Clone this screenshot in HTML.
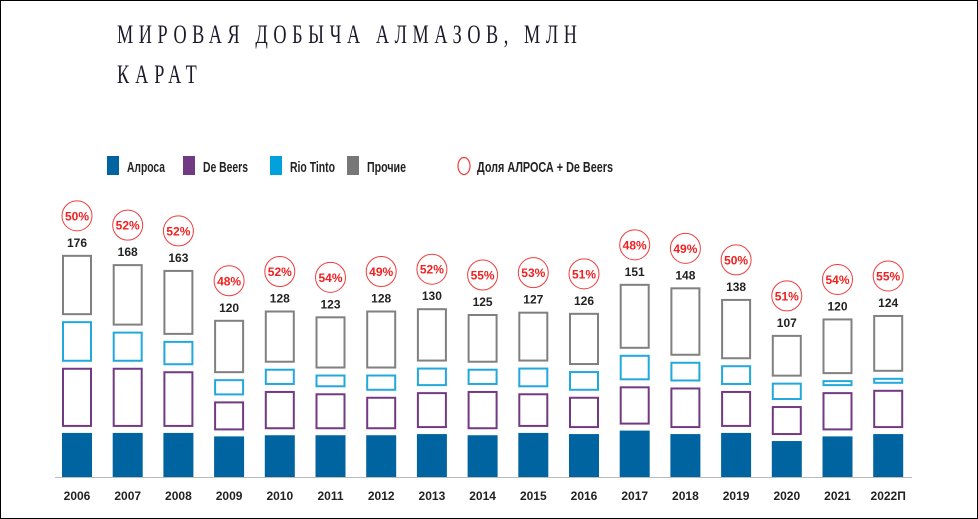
<!DOCTYPE html>
<html><head><meta charset="utf-8"><style>
html,body{margin:0;padding:0;background:#fff}
svg{display:block;font-family:"Liberation Sans","Noto Sans CJK JP",sans-serif}
</style></head><body>
<svg id="c" width="978" height="519" viewBox="0 0 978 519">
<rect x="0.5" y="0.5" width="977" height="518" fill="#fff" stroke="#000" stroke-width="1"/>
<g transform="translate(117,43) scale(0.7,1)">
<text x="0" y="0" font-family="Liberation Serif,serif" font-size="26" fill="#1a1a2a" textLength="657" lengthAdjust="spacing">МИРОВАЯ ДОБЫЧА АЛМАЗОВ, МЛН</text>
<text x="0" y="40" font-family="Liberation Serif,serif" font-size="26" fill="#1a1a2a" textLength="114" lengthAdjust="spacing">КАРАТ</text>
</g>
<g>
<rect x="107" y="156" width="12" height="19" fill="#0064a0"/>
<text x="127" y="172" font-size="15" font-weight="bold" fill="#222" textLength="38" lengthAdjust="spacingAndGlyphs">Алроса</text>
<rect x="183" y="156" width="12" height="19" fill="#733a84"/>
<text x="203" y="172" font-size="15" font-weight="bold" fill="#222" textLength="45" lengthAdjust="spacingAndGlyphs">De Beers</text>
<rect x="270" y="156" width="12" height="19" fill="#00a0dc"/>
<text x="290" y="172" font-size="15" font-weight="bold" fill="#222" textLength="45" lengthAdjust="spacingAndGlyphs">Rio Tinto</text>
<rect x="347" y="156" width="12" height="19" fill="#777"/>
<text x="367" y="172" font-size="15" font-weight="bold" fill="#222" textLength="39" lengthAdjust="spacingAndGlyphs">Прочие</text>
<ellipse cx="464" cy="166" rx="6" ry="8.5" fill="none" stroke="#f03c3c" stroke-width="1.2"/>
<text x="477" y="172" font-size="15" font-weight="bold" fill="#222" textLength="136" lengthAdjust="spacingAndGlyphs">Доля АЛРОСА + De Beers</text>
</g>
<line x1="55" y1="477.5" x2="912" y2="477.5" stroke="#bbb" stroke-width="1"/>
<g id="bars"></g>
</svg>
<script>
const years=["2006","2007","2008","2009","2010","2011","2012","2013","2014","2015","2016","2017","2018","2019","2020","2021","2022П"];
const alrosa=[38,38,38,35,36,36,36,37,36,38,37,40,37,38,31,35,37];
const debeers=[51,51,48,25,33,31,28,31,33,29,27,33,35,31,25,33,33];
const riotinto=[35,26,21,14,14,11,14,16,14,17,17,22,17,17,15,4,5];
const totals=[176,168,163,120,128,123,128,130,125,127,126,151,148,138,107,120,124];
const shares=["50%","52%","52%","48%","52%","54%","49%","52%","55%","53%","51%","48%","49%","50%","51%","54%","55%"];
const NS="http://www.w3.org/2000/svg";
const g=document.getElementById('bars');
const base=477, k=1.16, gap=6, bw=30;
const xC=i=>77+i*50.7;
function mk(tag,attrs){const e=document.createElementNS(NS,tag);for(const a in attrs)e.setAttribute(a,attrs[a]);g.appendChild(e);return e;}
years.forEach((yr,i)=>{
  const others=totals[i]-alrosa[i]-debeers[i]-riotinto[i];
  const x=xC(i)-bw/2;
  let y=base;
  const hA=alrosa[i]*k; y-=hA;
  const rA=mk('rect',{x:x,y:y,width:bw,height:hA,fill:'#0064a0'});
  
  
  const segs=[[debeers[i],'#733a84','debeers'],[riotinto[i],'#21a8dc','riotinto'],[others,'#808080','others']];
  segs.forEach(s=>{
    const h=Math.max(s[0]*k,6); y-=gap+h;
    const r=mk('rect',{x:x+1,y:y+1,width:bw-2,height:h-2,fill:'none',stroke:s[1],'stroke-width':2});
    
    
  });
  const t=mk('text',{x:xC(i),y:y-8,'text-anchor':'middle','font-size':12,'font-weight':'bold',fill:'#222'});
  t.textContent=totals[i];
  
  
  const cy=y-39;
  const c=mk('circle',{cx:xC(i),cy:cy,r:15,fill:'#fff',stroke:'#f03c3c','stroke-width':1});
  
  
  const st=mk('text',{x:xC(i),y:cy+4.5,'text-anchor':'middle','font-size':12,'font-weight':'bold',fill:'#f02020'});
  st.textContent=shares[i];
  
  
  const xl=mk('text',{x:xC(i),y:500,'text-anchor':'middle','font-size':12,'font-weight':'bold',fill:'#222'});
  xl.textContent=yr;
  
  
});
</script>
</body></html>
